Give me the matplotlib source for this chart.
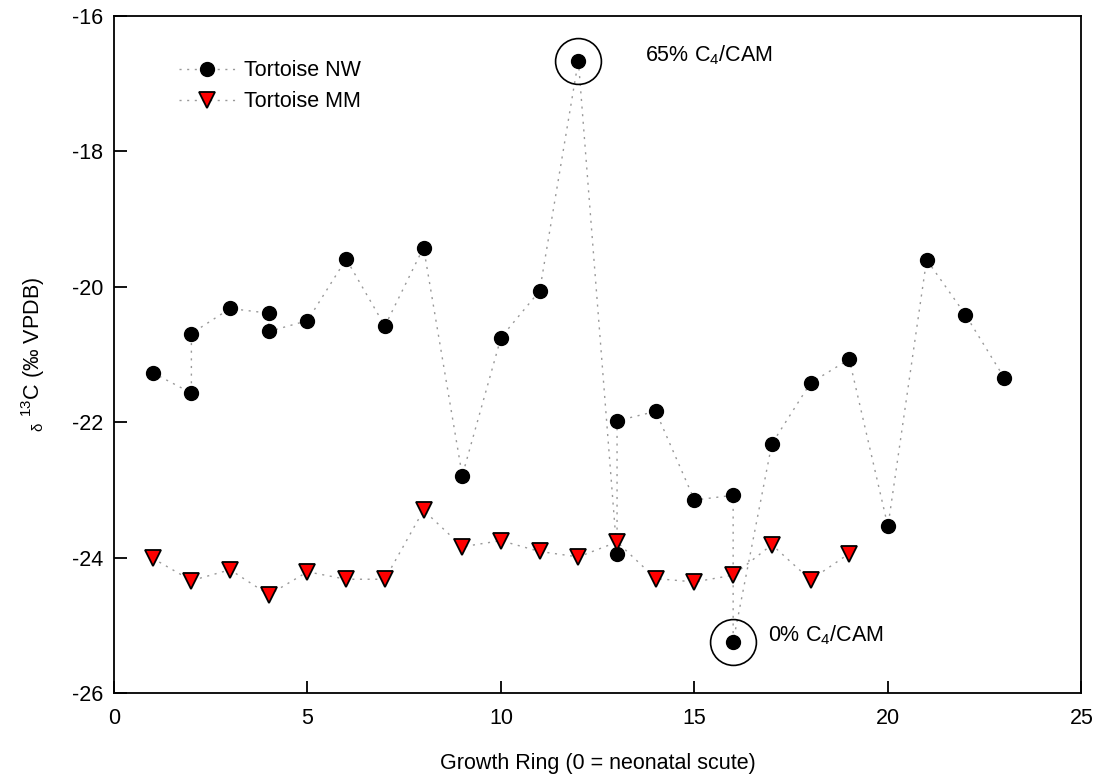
import matplotlib
matplotlib.use("Agg")
import matplotlib.pyplot as plt

plt.rcParams['font.family'] = ['Liberation Sans', 'DejaVu Sans']
plt.rcParams['mathtext.fontset'] = 'custom'
plt.rcParams['mathtext.rm'] = 'Liberation Sans'
plt.rcParams['mathtext.it'] = 'Liberation Sans'
plt.rcParams['axes.unicode_minus'] = False

# Tortoise NW (points in the order the line joins them)
nw_x = [1, 2, 2, 3, 4, 4, 5, 6, 7, 8, 9, 10, 11, 12, 13, 13, 14, 15, 16, 16,
        17, 18, 19, 20, 21, 22, 23]
nw_y = [-21.27, -21.57, -20.69, -20.32, -20.39, -20.66, -20.50, -19.59, -20.58,
        -19.42, -22.79, -20.75, -20.06, -16.66, -23.95, -21.98, -21.84, -23.15,
        -23.08, -25.24, -22.32, -21.42, -21.07, -23.54, -19.60, -20.41, -21.34]

# Tortoise MM
mm_x = list(range(1, 20))
mm_y = [-24.01, -24.34, -24.18, -24.55, -24.21, -24.32, -24.32, -23.30, -23.84,
        -23.75, -23.91, -23.99, -23.77, -24.31, -24.36, -24.26, -23.81, -24.33,
        -23.94]

# circled extremes and their notes
hl_x = [12, 16]
hl_y = [-16.66, -25.24]
hl_text = ["65% C$_4$/CAM", "0% C$_4$/CAM"]
hl_text_xy = [(13.72, -16.58), (16.9, -25.14)]

fig = plt.figure(figsize=(10.94, 7.78), dpi=100)
ax = fig.add_axes([0.1042, 0.1093, 0.8843, 0.8701])

ls = (0, (1.5, 4))
ax.plot(nw_x, nw_y, color='#999999', lw=1, ls=ls, marker='o', ms=10,
        mfc='black', mec='black', label='Tortoise NW')
ax.plot(mm_x, mm_y, color='#999999', lw=1, ls=ls, marker='v', ms=11,
        mfc='red', mec='black', mew=1.3, label='Tortoise MM')

ax.plot(hl_x, hl_y, ls='none', marker='o', ms=33, mfc='none', mec='black', mew=1.2)
for t, (tx, ty) in zip(hl_text, hl_text_xy):
    ax.text(tx, ty, t, fontsize=15.5, va='center', ha='left')

ax.set_xlim(0, 25)
ax.set_ylim(-26, -16)
ax.set_xticks([0, 5, 10, 15, 20, 25])
ax.set_yticks([-26, -24, -22, -20, -18, -16])
ax.tick_params(direction='in', length=9, width=1.3, labelsize=15.5,
               top=False, right=False)
ax.tick_params(axis='x', pad=11)
ax.tick_params(axis='y', pad=8)
for s in ax.spines.values():
    s.set_linewidth(1.3)

ax.set_xlabel("Growth Ring (0 = neonatal scute)", fontsize=15.5, labelpad=17)
ax.set_ylabel(r"$_{\delta}$ $^{13}$C (‰ VPDB)", fontsize=15.5, labelpad=18)

ax.legend(loc='upper left', bbox_to_anchor=(0.047, 0.963), frameon=False,
          fontsize=15.5, handlelength=2.6, handletextpad=0.45, labelspacing=0.45)

fig.savefig("out.png", dpi=100)
